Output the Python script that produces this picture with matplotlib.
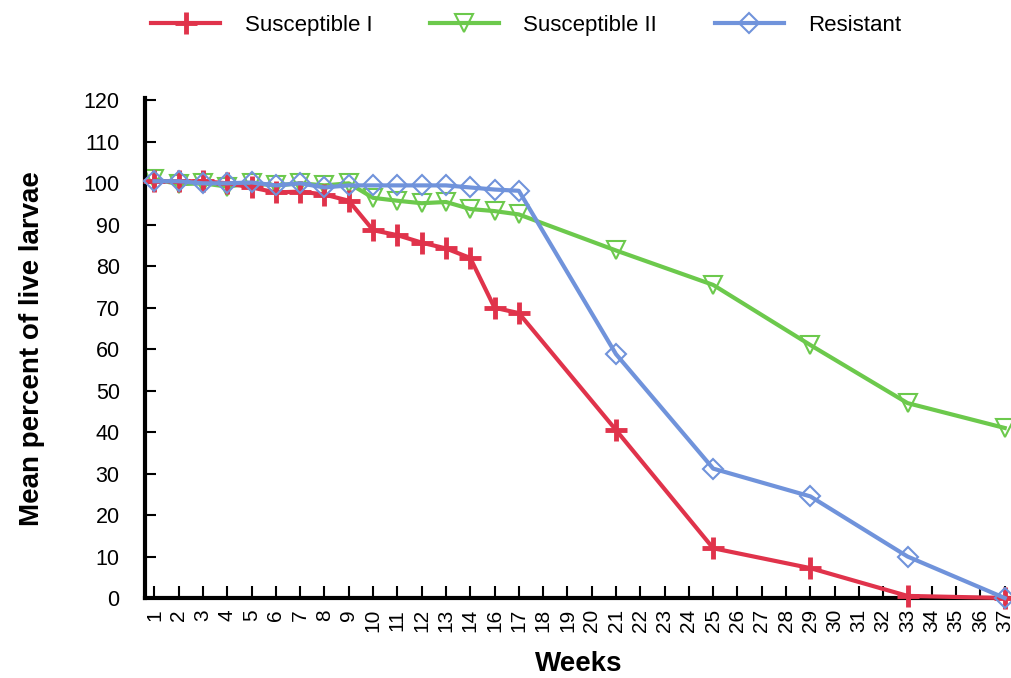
import matplotlib
matplotlib.use('Agg')
import matplotlib.pyplot as plt

plt.rcParams['font.family'] = ['Liberation Sans', 'DejaVu Sans']

# week labels on the category axis (15 is not shown in the original)
weeks = [str(w) for w in list(range(1, 15)) + list(range(16, 38))]

weeks_sampled = ['1', '2', '3', '4', '5', '6', '7', '8', '9', '10', '11', '12', '13', '14',
                 '16', '17', '21', '25', '29', '33', '37']

susceptible_1 = [100.5, 100.5, 100.5, 100, 99, 97.8, 98, 97.3, 95.8, 88.7, 87.5, 85.7, 84.3, 82,
                 70, 68.7, 40.5, 12, 7.2, 0.5, 0]
susceptible_2 = [101, 99.8, 100, 99.2, 100, 99.5, 100, 99.5, 100, 96.5, 95.8, 95.2, 95.5, 93.8,
                 93.3, 92.5, 83.8, 75.5, 61, 47, 41]
resistant = [100.5, 100.5, 100, 100, 100.2, 99.5, 100, 99, 99.5, 99.5, 99.5, 99.5, 99.5, 99,
             98.5, 98.2, 58.8, 31.2, 24.5, 10, 0]

pos = {w: i for i, w in enumerate(weeks)}
xs = [pos[w] for w in weeks_sampled]

fig = plt.figure(figsize=(10.12, 6.78), dpi=100)
ax = fig.add_axes([0.143, 0.118, 0.857, 0.737])

ax.plot(xs, susceptible_1, color='#e0334b', lw=3, marker='+', ms=16, mew=3.5,
        label='Susceptible I', zorder=3, clip_on=False)
ax.plot(xs, susceptible_2, color='#6cc94c', lw=3, marker='v', ms=13, mew=1.5, mfc='none',
        label='Susceptible II', zorder=2, clip_on=False)
ax.plot(xs, resistant, color='#7093db', lw=3, marker='D', ms=10, mew=1.5, mfc='none',
        label='Resistant', zorder=4, clip_on=False)

ax.set_xlim(-0.4, 35.3)
ax.set_ylim(0, 120.5)
ax.set_xticks(range(len(weeks)))
ax.set_xticklabels(weeks, rotation=90, fontsize=15)
ax.set_yticks(range(0, 121, 10))
ax.tick_params(axis='y', labelsize=15.5, direction='in', length=8, width=1.5, pad=18)
ax.tick_params(axis='x', direction='in', length=9, width=1.5, pad=8)

for s in ['top', 'right']:
    ax.spines[s].set_visible(False)
for s in ['left', 'bottom']:
    ax.spines[s].set_linewidth(3)

ax.set_ylabel('Mean percent of live larvae', fontsize=20, fontweight='bold', labelpad=28)
ax.set_xlabel('Weeks', fontsize=20, fontweight='bold', labelpad=13)

fig.legend(loc='center', bbox_to_anchor=(0.52, 0.962), ncol=3, frameon=False, fontsize=16,
           handlelength=3.1, columnspacing=2.6, handletextpad=1.1)

fig.savefig('out.png', dpi=100)
